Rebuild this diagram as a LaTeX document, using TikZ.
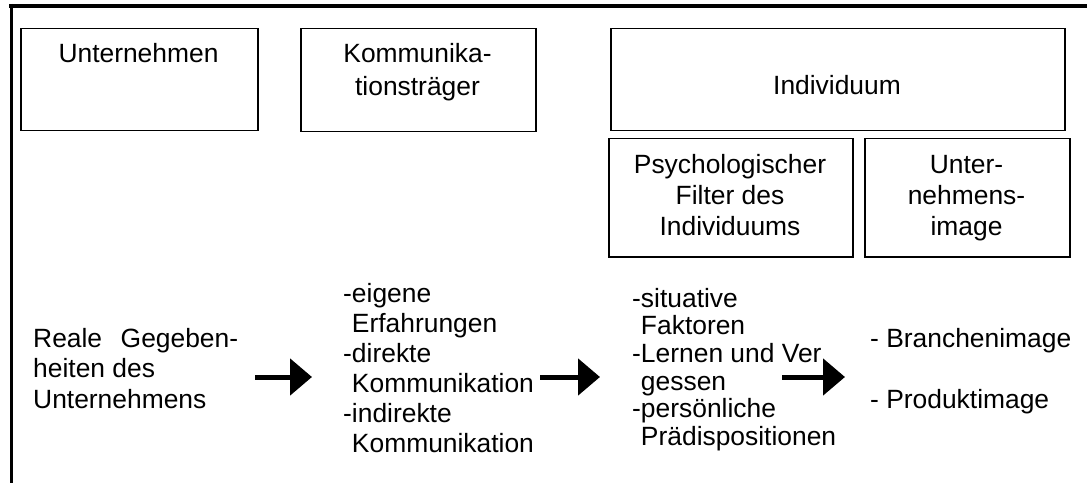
\documentclass[tikz,border=0pt]{standalone}
\usepackage{fontspec}
\setmainfont{Liberation Sans}
\usetikzlibrary{arrows.meta}
\begin{document}
\begin{tikzpicture}[x=1pt,y=-1pt,
  box/.style={draw, line width=1.5pt, rectangle, inner sep=0pt, anchor=north west},
  txt/.style={inner sep=0pt, font=\fontsize{26.4}{31}\selectfont},
  bigarrow/.style={line width=5pt, -{Triangle[length=22pt,width=36pt]}},
]
\useasboundingbox (0,0) rectangle (1087,484);
% frame lines
\coordinate (tl) at (9,6);
\coordinate (tr) at (1087,6);
\coordinate (lt) at (11.5,4);
\coordinate (lb) at (11.5,483);
\draw[line width=4pt] (tl) -- (tr);
\draw[line width=3pt] (lt) -- (lb);
% boxes
\node[box, minimum width=237pt, minimum height=102pt] (unt) at (20,28) {};
\node[box, minimum width=235pt, minimum height=103pt] (kom) at (300,28) {};
\node[box, minimum width=454pt, minimum height=102pt] (ind) at (610,28) {};
\node[box, minimum width=244pt, minimum height=118pt] (psy) at (608,138) {};
\node[box, minimum width=205pt, minimum height=118pt] (uim) at (864,138) {};
% box texts
\node[txt, anchor=base] (tunt) at (138.5,63) {Unternehmen};
\node[txt, anchor=north, align=center, font=\fontsize{26.4}{33}\selectfont] (tkom) at (417.5,38.9) {\strut Kommunika-\\tionsträger};
\node[txt, anchor=base] (tind) at (837,95) {Individuum};
\node[txt, anchor=north, align=center, font=\fontsize{26.4}{31}\selectfont] (tpsy) at (730,151.3) {\strut Psychologischer\\Filter des\\Individuums};
\node[txt, anchor=north, align=center, font=\fontsize{26.4}{31}\selectfont] (tuim) at (966.5,151.3) {\strut Unter-\\nehmens-\\image};
% lower texts
\node[txt, anchor=north west, align=left, font=\fontsize{26.4}{30.5}\selectfont] (real) at (33,325.65) {\strut\makebox[205pt][s]{Reale Gegeben-}\\heiten des\\Unternehmens};
\node[txt, anchor=north west, align=left, font=\fontsize{26.4}{30}\selectfont] (lst2) at (343,281) {\strut -eigene\\\phantom{-}Erfahrungen\\-direkte\\\phantom{-}Kommunikation\\-indirekte\\\phantom{-}Kommunikation};
\node[txt, anchor=north west, align=left, font=\fontsize{26.4}{27.7}\selectfont] (lst3) at (632,287.6) {\strut -situative\\\phantom{-}Faktoren\\-Lernen und Ver\\\phantom{-}gessen\\-persönliche\\\phantom{-}Prädispositionen};
\node[txt, anchor=north west, align=left, font=\fontsize{26.4}{61}\selectfont] (lst4) at (870,304.3) {\strut - Branchenimage\\- Produktimage};
% arrows
\coordinate (a1s) at (255,377);
\coordinate (a1e) at (312,377);
\coordinate (a2s) at (540,377);
\coordinate (a2e) at (600,377);
\coordinate (a3s) at (782,377);
\coordinate (a3e) at (845,377);
\draw[bigarrow] (a1s) -- (a1e);
\draw[bigarrow] (a2s) -- (a2e);
\draw[bigarrow] (a3s) -- (a3e);
\end{tikzpicture}
\end{document}
